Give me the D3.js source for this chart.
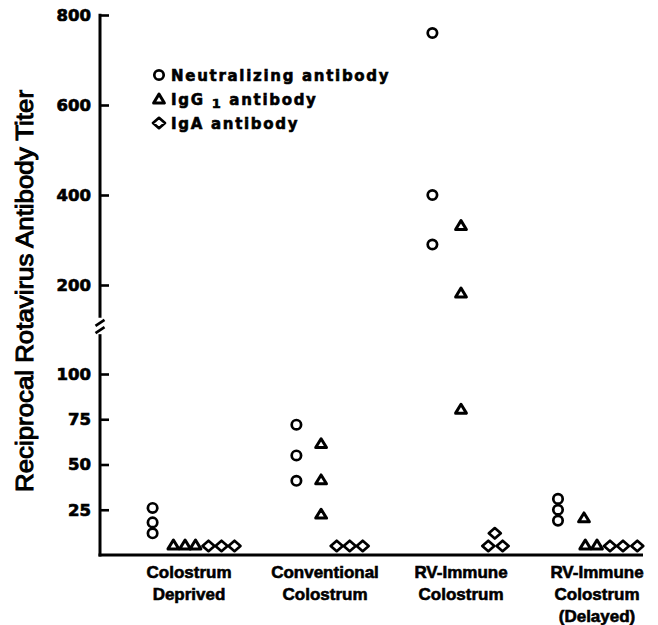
<!DOCTYPE html>
<html>
<head>
<meta charset="utf-8">
<script src="https://cdn.jsdelivr.net/npm/d3@7"></script>
<style>
  html, body { margin: 0; padding: 0; background: #fff; }
  svg { display: block; }
</style>
</head>
<body>
<svg id="chart" width="658" height="625"></svg>
<script>
// ---------------- DATA ----------------
const categories = ["Colostrum Deprived", "Conventional Colostrum", "RV-Immune Colostrum", "RV-Immune Colostrum (Delayed)"];
const categoryLines = [["Colostrum", "Deprived"], ["Conventional", "Colostrum"], ["RV-Immune", "Colostrum"], ["RV-Immune", "Colostrum", "(Delayed)"]];

// reciprocal titers per group (3 animals each)
const neutralizing = [[26, 18, 12], [72, 55, 41], [760, 400, 290], [31, 25, 19]];
const igg1        = [[5, 5, 5], [61, 41, 22], [330, 180, 80], [20, 5, 5]];
const iga         = [[5, 5, 5], [5, 5, 5], [5, 12, 5], [5, 5, 5]];

// dodge slot (ordinal column within a group) for each point
const neutSlots = [[-2.8, -2.8, -2.8], [-2.2, -2.2, -2.2], [-2.2, -2.2, -2.2], [-3, -3, -3]];
const iggSlots  = [[-1.2, -0.3, 0.5], [-0.3, -0.3, -0.3], [0, 0, 0], [-1, -0.9, 0]];
const igaSlots  = [[1.5, 2.5, 3.5], [0.9, 1.9, 2.9], [2.1, 2.6, 3.2], [1, 2, 3.1]];

const upperTicks = [200, 400, 600, 800];
const lowerTicks = [25, 50, 75, 100];
const breakLow = 122, breakHigh = 127;   // axis break between segments

const seriesNames = ["Neutralizing antibody", "IgG", "IgA antibody"];

// ---------------- SCALES ----------------
const svg = d3.select("#chart");
const axisX = 100;

const yUpper = d3.scaleLinear().domain([200, 800]).range([285, 15]);
const yLower = d3.scaleLinear().domain([0, 100]).range([555, 374]);
const y = v => v > 125 ? yUpper(v) : yLower(v);

const x = d3.scalePoint().domain(categories).range([189, 597]);
const slot = d3.scaleLinear().domain([0, 1]).range([0, 13]);

// ---------------- AXES ----------------
const tickFont = "'DejaVu Sans', sans-serif";

function styleAxis(g) {
  g.select(".domain").remove();
  g.selectAll(".tick line").attr("stroke", "#000").attr("stroke-width", 2.6);
  g.selectAll(".tick text")
    .attr("fill", "#000")
    .attr("stroke", "#000")
    .attr("stroke-width", 0.7)
    .style("font-family", tickFont)
    .style("font-weight", "bold")
    .style("font-size", "16.5px");
}

svg.append("g")
  .attr("transform", `translate(${axisX},0)`)
  .call(d3.axisLeft(yUpper).tickValues(upperTicks).tickSizeInner(-9).tickSizeOuter(0).tickPadding(9).tickFormat(d3.format("d")))
  .call(styleAxis);

svg.append("g")
  .attr("transform", `translate(${axisX},0)`)
  .call(d3.axisLeft(yLower).tickValues(lowerTicks).tickSizeInner(-9).tickSizeOuter(0).tickPadding(9).tickFormat(d3.format("d")))
  .call(styleAxis);

// axis lines with break
svg.append("line")
  .attr("x1", axisX).attr("x2", axisX)
  .attr("y1", yUpper(800) - 1.3).attr("y2", yUpper(breakHigh))
  .attr("stroke", "#000").attr("stroke-width", 3);
svg.append("line")
  .attr("x1", axisX).attr("x2", axisX)
  .attr("y1", yLower(breakLow)).attr("y2", yLower(0) + 1.5)
  .attr("stroke", "#000").attr("stroke-width", 3);

const yb1 = yUpper(breakHigh) + 5, yb2 = yLower(breakLow) - 4;
[yb1, yb2].forEach(yy => {
  svg.append("line")
    .attr("x1", axisX - 4.5).attr("y1", yy + 3)
    .attr("x2", axisX + 4.5).attr("y2", yy - 3)
    .attr("stroke", "#000").attr("stroke-width", 2.6);
});

// x baseline
svg.append("line")
  .attr("x1", axisX - 1.5).attr("x2", 643)
  .attr("y1", yLower(0)).attr("y2", yLower(0))
  .attr("stroke", "#000").attr("stroke-width", 3);

// category labels
const catFont = "'Liberation Sans', Arial, sans-serif";
categories.forEach((c, i) => {
  const t = svg.append("text")
    .attr("x", x(c))
    .attr("y", 578)
    .attr("text-anchor", "middle")
    .style("font-family", catFont)
    .style("font-weight", "bold")
    .style("font-size", "17px")
    .attr("fill", "#000")
    .attr("stroke", "#000")
    .attr("stroke-width", 0.6);
  categoryLines[i].forEach((line, j) => {
    t.append("tspan").attr("x", x(c)).attr("dy", j === 0 ? 0 : 22).text(line);
  });
});

// y title
svg.append("text")
  .attr("transform", `translate(33,291) rotate(-90)`)
  .attr("text-anchor", "middle")
  .attr("textLength", 402)
  .attr("lengthAdjust", "spacingAndGlyphs")
  .style("font-family", catFont)
  .style("font-size", "23px")
  .attr("fill", "#000")
  .attr("stroke", "#000")
  .attr("stroke-width", 1.0)
  .text("Reciprocal Rotavirus Antibody Titer");

// ---------------- MARKERS ----------------
function circlePath(cx, cy) {
  const r = 4.7;
  return `M${cx + r},${cy}A${r},${r} 0 1,1 ${cx - r},${cy}A${r},${r} 0 1,1 ${cx + r},${cy}Z`;
}
function trianglePath(cx, cy) {
  const w = 5.4, h = 8.8;
  return `M${cx},${cy - h * 2 / 3}L${cx + w},${cy + h / 3}L${cx - w},${cy + h / 3}Z`;
}
function diamondPath(cx, cy) {
  const w = 6.0, h = 5.2;
  return `M${cx},${cy - h}L${cx + w},${cy}L${cx},${cy + h}L${cx - w},${cy}Z`;
}

function pointsOf(values, slots) {
  const out = [];
  categories.forEach((c, i) => {
    values[i].forEach((v, j) => out.push({ cat: c, value: v, slot: slots[i][j] }));
  });
  return out;
}

const series = [
  { data: pointsOf(neutralizing, neutSlots), shape: circlePath, sw: 2.7 },
  { data: pointsOf(igg1, iggSlots), shape: trianglePath, sw: 3.0 },
  { data: pointsOf(iga, igaSlots), shape: diamondPath, sw: 2.7 }
];

series.forEach(s => {
  svg.append("g").selectAll("path")
    .data(s.data)
    .join("path")
    .attr("d", d => s.shape(x(d.cat) + slot(d.slot), y(d.value)))
    .attr("fill", "none")
    .attr("stroke", "#000")
    .attr("stroke-width", s.sw)
    .attr("stroke-linejoin", "round");
});

// ---------------- LEGEND ----------------
const legendFont = "'DejaVu Sans', sans-serif";
const legendRows = [
  { shape: circlePath, cy: 75, sw: 2.7 },
  { shape: trianglePath, cy: 100, sw: 3.0 },
  { shape: diamondPath, cy: 123, sw: 2.7 }
];
legendRows.forEach(r => {
  svg.append("path")
    .attr("d", r.shape(159, r.cy))
    .attr("fill", "none").attr("stroke", "#000")
    .attr("stroke-width", r.sw).attr("stroke-linejoin", "round");
});
function legendText(yy) {
  return svg.append("text")
    .attr("x", 171).attr("y", yy)
    .style("font-family", legendFont)
    .style("font-weight", "bold")
    .style("font-size", "15px")
    .style("letter-spacing", "1.7px")
    .attr("fill", "#000")
    .attr("stroke", "#000")
    .attr("stroke-width", 0.6);
}
legendText(80.5).text(seriesNames[0]);
const t2 = legendText(104.5);
t2.append("tspan").text(seriesNames[1] + " ");
t2.append("tspan").attr("dy", 3).style("font-size", "13px").text("1");
t2.append("tspan").attr("dy", -3).text(" antibody");
legendText(128.5).text(seriesNames[2]);
</script>
</body>
</html>
